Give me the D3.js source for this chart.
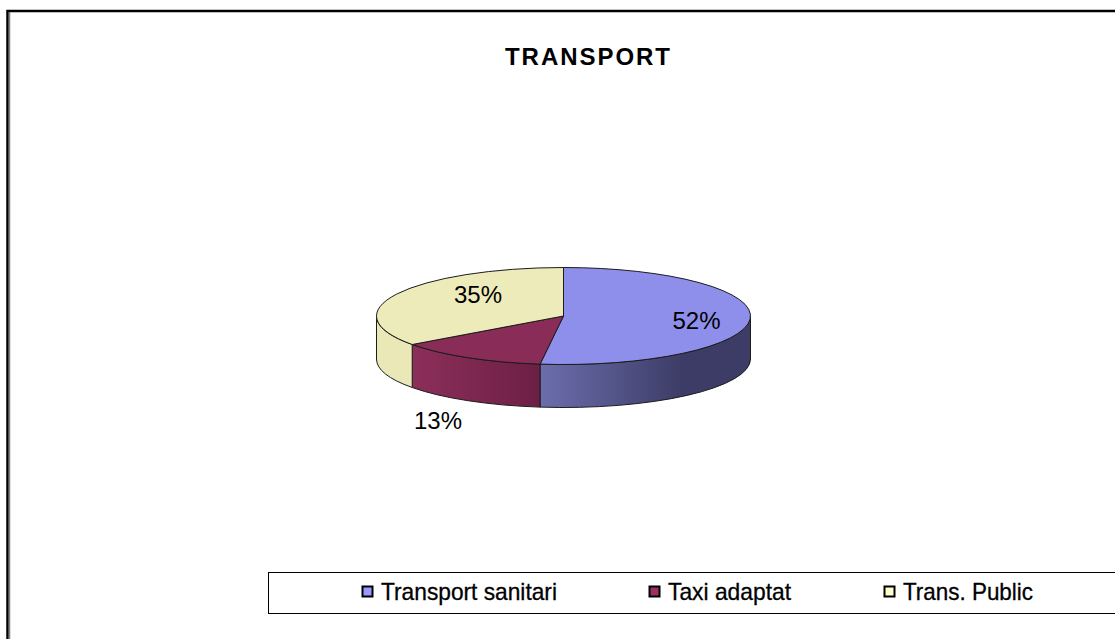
<!DOCTYPE html>
<html>
<head>
<meta charset="utf-8">
<script src="https://cdn.jsdelivr.net/npm/d3@7"></script>
<style>
  html, body { margin: 0; padding: 0; background: #fff; overflow: hidden; }
  text { font-family: "Liberation Sans", Arial, sans-serif; fill: #000; }
</style>
</head>
<body>
<div id="chart"></div>
<script>
// chart data
const categories = ["Transport sanitari", "Taxi adaptat", "Trans. Public"];
const values = [52, 13, 35];
const topColors = ["#8e8eeb", "#8a2c58", "#ecebb9"];
const legendColors = ["#9999ff", "#993366", "#ffffcc"];
const sideFrom = ["#6c6ead", "#8c2f5a", "#e9e8b6"];
const sideTo = ["#3c3c66", "#6c1f45", "#e9e8b6"];
const sideReach = [0.68, 1, 1];

const width = 1115,
    height = 639;

const cx = 563.5, cy = 316, rx = 187, ry = 48.5, depth = 43;

const svg = d3.select("#chart")
    .append("svg")
    .attr("width", width)
    .attr("height", height)
    .style("display", "block");

// page frame, only top and left are inside the picture
svg.append("path").attr("d", "M7.5,639V11H1115").attr("fill", "none").attr("stroke", "#000").attr("stroke-width", 2.5);
svg.append("line").attr("x1", 9.5).attr("x2", 9.5).attr("y1", 12).attr("y2", 639).attr("stroke", "#808080").attr("stroke-width", 1.5);

svg.append("text")
    .attr("x", 505)
    .attr("y", 65)
    .attr("textLength", 165)
    .attr("lengthAdjust", "spacing")
    .style("font-size", "24px")
    .style("font-weight", "bold")
    .text("TRANSPORT");

const pie = d3.pie().sort(null)(values);
const ex = a => cx + rx * Math.sin(a);
const ey = a => cy - ry * Math.cos(a);

const defs = svg.append("defs");
const frontStart = Math.PI / 2, frontEnd = Math.PI * 1.5;

// side walls first, only what faces the viewer
const sides = svg.append("g");
pie.forEach((d, i) => {
    const a0 = Math.max(d.startAngle, frontStart),
        a1 = Math.min(d.endAngle, frontEnd);
    if (a1 <= a0) return;
    const left = ex(a1), right = ex(a0);
    const grad = defs.append("linearGradient")
        .attr("id", "side" + i)
        .attr("gradientUnits", "userSpaceOnUse")
        .attr("x1", left).attr("x2", left + (right - left) * sideReach[i])
        .attr("y1", 0).attr("y2", 0);
    grad.append("stop").attr("offset", 0).attr("stop-color", sideFrom[i]);
    grad.append("stop").attr("offset", 1).attr("stop-color", sideTo[i]);
    const wall = `M${ex(a0)},${ey(a0)}A${rx},${ry} 0 0 1 ${ex(a1)},${ey(a1)}` +
        `L${ex(a1)},${ey(a1) + depth}A${rx},${ry} 0 0 0 ${ex(a0)},${ey(a0) + depth}Z`;
    sides.append("path")
        .attr("d", wall)
        .attr("fill", `url(#side${i})`)
        .attr("stroke", "#1c1c1c")
        .attr("stroke-width", 1)
        .attr("stroke-linejoin", "round");
});

// top face, a flat d3 arc squashed to the ellipse
const arc = d3.arc().innerRadius(0).outerRadius(rx);
svg.append("g")
    .attr("transform", `translate(${cx},${cy}) scale(1,${ry / rx})`)
    .selectAll("path")
    .data(pie)
    .join("path")
    .attr("d", arc)
    .attr("fill", (d, i) => topColors[i])
    .attr("stroke", "#1c1c1c")
    .attr("stroke-width", 1)
    .attr("vector-effect", "non-scaling-stroke")
    .attr("stroke-linejoin", "round");

// data labels
const labelAt = [[696.5, 329], [438, 429], [478, 303]];
svg.append("g")
    .selectAll("text")
    .data(values)
    .join("text")
    .attr("x", (d, i) => labelAt[i][0])
    .attr("y", (d, i) => labelAt[i][1])
    .attr("text-anchor", "middle")
    .style("font-size", "24px")
    .text(d => d + "%");

// legend
svg.append("rect")
    .attr("x", 268.5).attr("y", 572.5)
    .attr("width", 900).attr("height", 41)
    .attr("fill", "#fff")
    .attr("stroke", "#000")
    .attr("stroke-width", 1);

const legendX = [362, 649, 884];
const legendLen = [176, 123, 130];
const legend = svg.append("g")
    .selectAll("g")
    .data(categories)
    .join("g")
    .attr("transform", (d, i) => `translate(${legendX[i]},592)`);

legend.append("rect")
    .attr("x", 0.5).attr("y", -5.5)
    .attr("width", 10).attr("height", 10)
    .attr("fill", (d, i) => legendColors[i])
    .attr("stroke", "#000")
    .attr("stroke-width", 2);

legend.append("text")
    .attr("x", 19)
    .attr("y", 7.5)
    .attr("textLength", (d, i) => legendLen[i])
    .attr("lengthAdjust", "spacingAndGlyphs")
    .style("font-size", "24px")
    .style("stroke", "#000")
    .style("stroke-width", 0.3)
    .text(d => d);
</script>
</body>
</html>
